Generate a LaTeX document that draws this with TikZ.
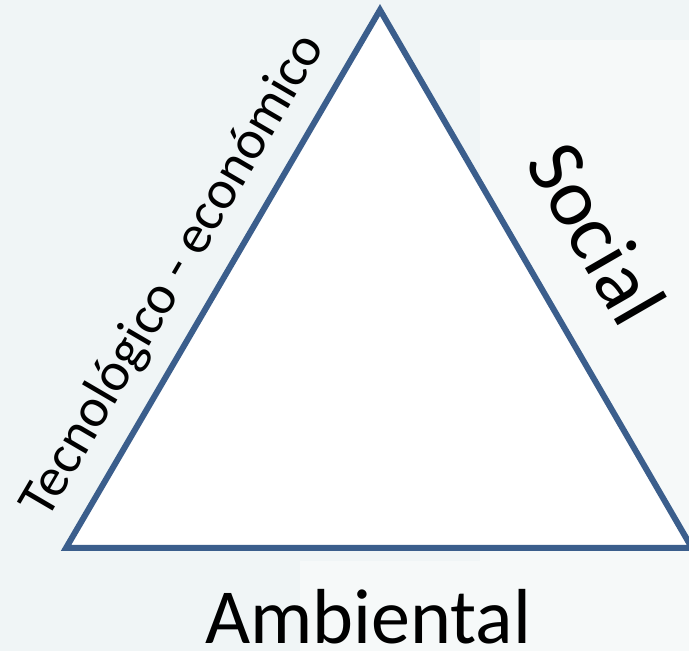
\documentclass[tikz,border=0pt]{standalone}
\usepackage{fontspec}
\setmainfont{Carlito}
\usepackage{tikz}
\usetikzlibrary{positioning,calc}

\definecolor{edgeblue}{RGB}{59,94,140}
\definecolor{paper}{RGB}{240,245,246}
\definecolor{paperlight}{RGB}{246,249,249}

\begin{document}
\begin{tikzpicture}[
  x=1pt, y=1pt,
  side/.style={draw=edgeblue, line width=6pt, line join=miter, fill=white},
  label/.style={inner sep=0pt, text=black}]

% background
\fill[paper] (0,0) rectangle (689,651);
\fill[paperlight] (480,0) rectangle (689,611);
\fill[paperlight] (300,0) rectangle (480,90);
\useasboundingbox (0,0) rectangle (689,651);
\clip (0,0) rectangle (689,651);

% corners
\coordinate (left) at (66,103);
\coordinate (top) at (380,641);
\coordinate (right) at (692,103);

\draw[side] (left) -- (top) -- (right) -- cycle;

% labels
\node[label, font=\fontsize{55}{66}\selectfont, rotate=59.7]
  (tecno) at (174,375) {Tecnológico - económico};
\node[label, font=\fontsize{82}{96}\selectfont, rotate=-60]
  (social) at (597,418) {Social};
\node[label, font=\fontsize{78}{90}\selectfont, anchor=base]
  (ambiental) at (368,7) {Ambiental};

\end{tikzpicture}
\end{document}
